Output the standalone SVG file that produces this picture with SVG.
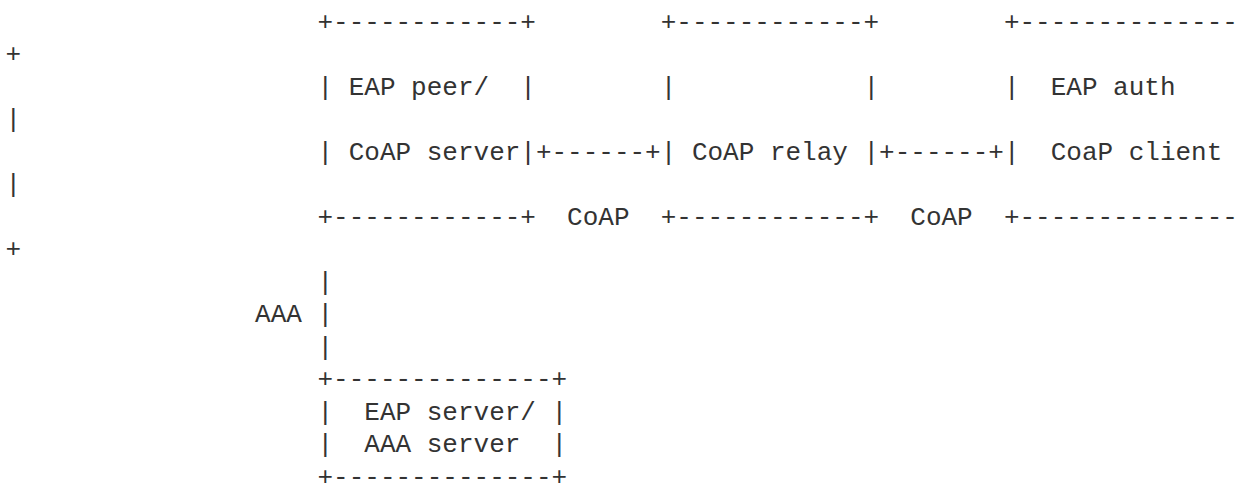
<svg xmlns="http://www.w3.org/2000/svg" width="1238" height="485" viewBox="0 0 1238 485">
<style>
text { font-family: "Liberation Mono", "DejaVu Sans Mono", monospace; font-size: 26px; fill: #333333; white-space: pre; }
</style>
<rect width="1238" height="485" fill="#ffffff"/>
<g id="node-eap-peer" xml:space="preserve">
<text x="317.5" y="29.5">+------------+</text>
<text x="317.5" y="94.5">| EAP peer/  |</text>
<text x="317.5" y="159.5">| CoAP server|</text>
<text x="317.5" y="224.5">+------------+</text>
</g>
<g id="node-coap-relay" xml:space="preserve">
<text x="660.7" y="29.5">+------------+</text>
<text x="660.7" y="94.5">|            |</text>
<text x="660.7" y="159.5">| CoAP relay |</text>
<text x="660.7" y="224.5">+------------+</text>
</g>
<g id="node-eap-auth" xml:space="preserve">
<text x="1003.9" y="29.5">+--------------</text>
<text x="5.5" y="62">+</text>
<text x="1003.9" y="94.5">|  EAP auth</text>
<text x="5.5" y="127">|</text>
<text x="1003.9" y="159.5">|  CoaP client</text>
<text x="5.5" y="192">|</text>
<text x="1003.9" y="224.5">+--------------</text>
<text x="5.5" y="257">+</text>
</g>
<g id="node-eap-server" xml:space="preserve">
<text x="317.5" y="387">+--------------+</text>
<text x="317.5" y="419.5">|  EAP server/ |</text>
<text x="317.5" y="452">|  AAA server  |</text>
<text x="317.5" y="484.5">+--------------+</text>
</g>
<g id="connectors" xml:space="preserve">
<text x="535.9" y="159.5">+------+</text>
<text x="879.1" y="159.5">+------+</text>
<text x="567.1" y="224.5">CoAP</text>
<text x="910.3" y="224.5">CoAP</text>
<text x="317.5" y="289.5">|</text>
<text x="255.1" y="322">AAA |</text>
<text x="317.5" y="354.5">|</text>
</g>
</svg>
